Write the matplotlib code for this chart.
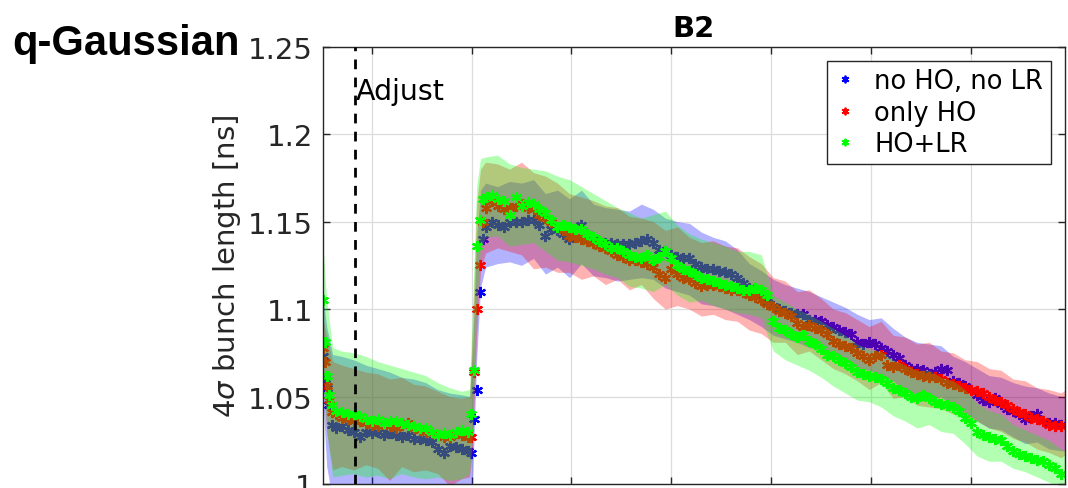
import numpy as np
import matplotlib
matplotlib.use("Agg")
import matplotlib.pyplot as plt
from matplotlib.lines import Line2D

# ---------------------------------------------------------------- data
# sample times (grid units), finer at the start of the fill and at the ramp
t_start = [-0.49, -0.47, -0.45, -0.43, -0.40, -0.36, -0.30, -0.24, -0.18, -0.12, -0.06,
           0.00, 0.06, 0.12, 0.18, 0.24, 0.30, 0.36, 0.42, 0.48, 0.54, 0.60, 0.66,
           0.72, 0.78, 0.84, 0.90, 0.96, 0.99, 1.02, 1.05, 1.08, 1.11]
t_rest = np.round(1.14 + 0.06 * np.arange(97), 2)
t = np.concatenate([t_start, t_rest])

# mean 4-sigma bunch length [ns]
no_ho_no_lr = [
    1.073, 1.060, 1.055, 1.045, 1.034, 1.032, 1.033, 1.031, 1.030, 1.027, 1.030,
    1.029, 1.030, 1.028, 1.029, 1.028, 1.027, 1.028, 1.026, 1.026, 1.025, 1.024,
    1.020, 1.018, 1.022, 1.021, 1.020, 1.019, 1.018, 1.037, 1.054, 1.110, 1.140,
    1.147, 1.150, 1.148, 1.147, 1.150, 1.150, 1.150, 1.151, 1.151, 1.148, 1.142, 1.146,
    1.145, 1.143, 1.140, 1.146, 1.148, 1.143, 1.140, 1.139, 1.138, 1.138, 1.137, 1.137,
    1.137, 1.138, 1.139, 1.140, 1.138, 1.134, 1.133, 1.131, 1.130, 1.129, 1.129, 1.126,
    1.124, 1.123, 1.123, 1.122, 1.121, 1.120, 1.118, 1.115, 1.112, 1.110, 1.108, 1.104,
    1.102, 1.100, 1.099, 1.098, 1.097, 1.097, 1.094, 1.094, 1.093, 1.091, 1.090, 1.088,
    1.087, 1.086, 1.081, 1.080, 1.081, 1.080, 1.078, 1.076, 1.074, 1.072, 1.068, 1.066,
    1.066, 1.065, 1.063, 1.064, 1.066, 1.065, 1.059, 1.058, 1.056, 1.054, 1.051, 1.048,
    1.047, 1.049, 1.046, 1.043, 1.042, 1.040, 1.037, 1.039, 1.040, 1.036, 1.035, 1.035,
    1.034]
only_ho = [
    1.078, 1.070, 1.056, 1.048, 1.041, 1.040, 1.038, 1.037, 1.036, 1.036, 1.035,
    1.034, 1.033, 1.035, 1.033, 1.032, 1.034, 1.035, 1.032, 1.031, 1.030, 1.029,
    1.028, 1.027, 1.027, 1.029, 1.028, 1.027, 1.027, 1.064, 1.100, 1.125, 1.150,
    1.158, 1.162, 1.159, 1.157, 1.158, 1.159, 1.160, 1.158, 1.157, 1.154, 1.152, 1.150,
    1.147, 1.145, 1.142, 1.141, 1.140, 1.139, 1.138, 1.136, 1.135, 1.133, 1.131, 1.130,
    1.128, 1.128, 1.127, 1.126, 1.124, 1.120, 1.118, 1.123, 1.120, 1.118, 1.117, 1.115,
    1.113, 1.114, 1.114, 1.113, 1.112, 1.111, 1.111, 1.110, 1.108, 1.107, 1.105, 1.103,
    1.101, 1.099, 1.098, 1.096, 1.092, 1.090, 1.091, 1.089, 1.088, 1.086, 1.082, 1.080,
    1.079, 1.078, 1.075, 1.073, 1.071, 1.073, 1.074, 1.068, 1.067, 1.068, 1.066, 1.064,
    1.063, 1.062, 1.061, 1.061, 1.060, 1.058, 1.057, 1.056, 1.055, 1.054, 1.053, 1.052,
    1.050, 1.048, 1.047, 1.045, 1.043, 1.041, 1.040, 1.038, 1.037, 1.036, 1.034, 1.033,
    1.033]
ho_lr = [
    1.105, 1.081, 1.062, 1.051, 1.045, 1.042, 1.041, 1.040, 1.040, 1.039, 1.037,
    1.036, 1.037, 1.035, 1.036, 1.036, 1.035, 1.034, 1.033, 1.032, 1.032, 1.030,
    1.028, 1.029, 1.028, 1.030, 1.031, 1.030, 1.040, 1.065, 1.136, 1.151, 1.163,
    1.164, 1.165, 1.163, 1.162, 1.154, 1.164, 1.159, 1.161, 1.160, 1.157, 1.155, 1.151,
    1.147, 1.148, 1.147, 1.146, 1.146, 1.143, 1.141, 1.139, 1.137, 1.135, 1.135, 1.133,
    1.131, 1.130, 1.129, 1.131, 1.128, 1.130, 1.133, 1.129, 1.125, 1.123, 1.122, 1.120,
    1.118, 1.117, 1.116, 1.115, 1.114, 1.113, 1.112, 1.111, 1.111, 1.112, 1.111, 1.108,
    1.093, 1.089, 1.088, 1.086, 1.084, 1.085, 1.082, 1.080, 1.077, 1.074, 1.073, 1.071,
    1.069, 1.067, 1.064, 1.063, 1.062, 1.061, 1.060, 1.058, 1.055, 1.054, 1.052, 1.050,
    1.049, 1.051, 1.049, 1.047, 1.046, 1.045, 1.044, 1.042, 1.038, 1.035, 1.030, 1.028,
    1.027, 1.026, 1.025, 1.022, 1.019, 1.017, 1.016, 1.015, 1.014, 1.013, 1.011, 1.009,
    1.006]

# spread band (lower / upper envelope) sampled on a coarser time grid
tb_start = [-0.49, -0.45, -0.39, -0.30, -0.18, -0.06, 0.06, 0.18, 0.30, 0.42, 0.54,
            0.66, 0.78, 0.90, 0.98, 1.01, 1.05, 1.09]
tb = np.concatenate([tb_start, np.round(1.14 + 0.12 * np.arange(49), 2), [6.95]])

no_ho_no_lr_hi = [
    1.108, 1.090, 1.074, 1.073, 1.071, 1.068, 1.066, 1.064, 1.061, 1.060, 1.058, 1.054,
    1.052, 1.051, 1.050, 1.075, 1.140, 1.168,
    1.172, 1.170, 1.173, 1.172, 1.174, 1.166, 1.168, 1.163, 1.168, 1.160, 1.158, 1.157,
    1.156, 1.160, 1.157, 1.152, 1.150, 1.149, 1.144, 1.141, 1.139, 1.134, 1.126, 1.122,
    1.117, 1.114, 1.112, 1.110, 1.107, 1.104, 1.101, 1.097, 1.094, 1.095, 1.089, 1.084,
    1.081, 1.080, 1.079, 1.073, 1.070, 1.066, 1.062, 1.061, 1.058, 1.056, 1.055, 1.052,
    1.050, 1.050]
no_ho_no_lr_lo = [
    1.050, 1.010, 0.990, 0.992, 0.990, 0.992, 0.991, 0.990, 0.992, 0.990, 0.991, 0.989,
    0.990, 0.990, 0.989, 1.000, 1.070, 1.112,
    1.124, 1.126, 1.127, 1.125, 1.129, 1.120, 1.124, 1.118, 1.126, 1.119, 1.118, 1.116,
    1.117, 1.118, 1.117, 1.112, 1.110, 1.108, 1.103, 1.102, 1.100, 1.097, 1.094, 1.090,
    1.085, 1.083, 1.081, 1.078, 1.077, 1.074, 1.071, 1.066, 1.065, 1.062, 1.059, 1.053,
    1.051, 1.048, 1.050, 1.044, 1.041, 1.036, 1.032, 1.031, 1.027, 1.023, 1.024, 1.020,
    1.019, 1.019]
only_ho_hi = [
    1.095, 1.085, 1.070, 1.068, 1.066, 1.064, 1.063, 1.060, 1.061, 1.057, 1.056, 1.053,
    1.050, 1.049, 1.050, 1.090, 1.160, 1.180,
    1.184, 1.183, 1.180, 1.184, 1.178, 1.176, 1.172, 1.166, 1.164, 1.162, 1.159, 1.158,
    1.153, 1.152, 1.150, 1.145, 1.147, 1.141, 1.138, 1.139, 1.136, 1.135, 1.130, 1.126,
    1.118, 1.116, 1.110, 1.111, 1.106, 1.100, 1.098, 1.094, 1.090, 1.093, 1.085, 1.084,
    1.080, 1.081, 1.076, 1.075, 1.071, 1.070, 1.066, 1.065, 1.060, 1.059, 1.055, 1.054,
    1.052, 1.054]
only_ho_lo = [
    1.065, 1.030, 1.008, 1.010, 1.008, 1.011, 1.009, 1.002, 1.010, 1.007, 1.008, 1.006,
    0.999, 1.003, 1.004, 1.020, 1.085, 1.122,
    1.132, 1.135, 1.133, 1.131, 1.123, 1.124, 1.121, 1.121, 1.117, 1.119, 1.114, 1.117,
    1.111, 1.114, 1.106, 1.100, 1.102, 1.100, 1.096, 1.097, 1.094, 1.093, 1.088, 1.086,
    1.081, 1.081, 1.074, 1.076, 1.071, 1.066, 1.063, 1.059, 1.054, 1.058, 1.049, 1.050,
    1.045, 1.044, 1.043, 1.040, 1.038, 1.036, 1.032, 1.030, 1.026, 1.024, 1.020, 1.018,
    1.015, 1.017]
ho_lr_hi = [
    1.140, 1.105, 1.078, 1.076, 1.075, 1.073, 1.070, 1.068, 1.066, 1.064, 1.062, 1.058,
    1.055, 1.053, 1.054, 1.100, 1.170, 1.186,
    1.187, 1.188, 1.183, 1.181, 1.180, 1.179, 1.176, 1.174, 1.170, 1.166, 1.162, 1.158,
    1.155, 1.152, 1.154, 1.156, 1.148, 1.143, 1.140, 1.138, 1.136, 1.133, 1.133, 1.131,
    1.108, 1.104, 1.100, 1.097, 1.093, 1.089, 1.085, 1.080, 1.077, 1.076, 1.071, 1.068,
    1.065, 1.065, 1.061, 1.059, 1.054, 1.046, 1.042, 1.040, 1.034, 1.031, 1.028, 1.025,
    1.020, 1.019]
ho_lr_lo = [
    1.075, 1.030, 1.004, 1.005, 1.006, 1.004, 1.005, 1.003, 1.006, 1.004, 1.003, 1.004,
    1.002, 1.003, 1.006, 1.030, 1.100, 1.135,
    1.141, 1.142, 1.136, 1.137, 1.138, 1.133, 1.128, 1.127, 1.125, 1.123, 1.120, 1.118,
    1.113, 1.112, 1.110, 1.114, 1.108, 1.104, 1.105, 1.102, 1.100, 1.098, 1.097, 1.095,
    1.076, 1.071, 1.068, 1.065, 1.061, 1.056, 1.052, 1.048, 1.047, 1.044, 1.039, 1.036,
    1.032, 1.034, 1.030, 1.029, 1.023, 1.016, 1.013, 1.013, 1.009, 1.007, 1.004, 1.001,
    0.996, 0.995]

labels = ["no HO, no LR", "only HO", "HO+LR"]
colors = ["#0000ff", "#ff0000", "#00ff00"]
y_ticks = [1.0, 1.05, 1.1, 1.15, 1.2, 1.25]
y_ticklabels = ["1", "1.05", "1.1", "1.15", "1.2", "1.25"]
adjust_time = -0.17

# ---------------------------------------------------------------- figure
W, H = 1068, 489
fig = plt.figure(figsize=(W / 100, H / 100), dpi=100)
ax = fig.add_axes([322.7 / W, 1 - 485 / H, (1065 - 322.7) / W, (485 - 47.7) / H])

ink = "#262626"
asterisk = (6, 2, 0)

series = [
    (no_ho_no_lr, no_ho_no_lr_lo, no_ho_no_lr_hi),
    (only_ho, only_ho_lo, only_ho_hi),
    (ho_lr, ho_lr_lo, ho_lr_hi),
]
handles = []
for (mean, lo, hi), col, lab in zip(series, colors, labels):
    ax.fill_between(tb, lo, hi, color=col, alpha=0.3, lw=0, zorder=2)
    ax.plot(t, mean, ls="none", marker=asterisk, ms=8, mew=1.6,
            color=col, zorder=2)
    handles.append(Line2D([], [], ls="none", marker=asterisk, ms=5.5, mew=1.3,
                          color=col, label=lab))

ax.axvline(adjust_time, color="black", ls=(0, (3.5, 3)), lw=2, zorder=5)
ax.text(adjust_time + 0.015, 1.2247, "Adjust", fontsize=20.5, va="center",
        ha="left", color="black", zorder=6)

ax.set_xlim(-0.49, 6.94)
ax.set_ylim(1.0, 1.25)
ax.set_xticks(range(7))
ax.set_yticks(y_ticks)
ax.set_yticklabels(y_ticklabels)
ax.tick_params(direction="in", top=True, right=True, length=5, width=1,
               labelbottom=False, labelsize=21, colors=ink, pad=7)
ax.grid(True, color="#dcdcdc", lw=0.9)
ax.set_axisbelow(True)
for s in ax.spines.values():
    s.set_color(ink)
    s.set_linewidth(1)

ax.set_ylabel(r"4$\sigma$ bunch length [ns]", fontsize=21, color=ink)
ax.yaxis.set_label_coords(-0.108, 0.5)
ax.set_title("B2", fontsize=21, fontweight="bold", color="black", pad=8)

leg = ax.legend(handles=handles, loc="upper right", fontsize=18.5,
                bbox_to_anchor=(1 - 14 / 742.3, 1 - 14 / 437.3),
                borderaxespad=0, frameon=True, fancybox=False,
                handlelength=0.8, handletextpad=0.75, borderpad=0.3,
                labelspacing=0.2, framealpha=1)
leg.get_frame().set_edgecolor(ink)
leg.get_frame().set_linewidth(1)

fig.text(12 / W, 1 - 55 / H, "q-Gaussian", fontsize=30, fontweight="bold",
         family="Liberation Sans", va="baseline", ha="left", color="black")

fig.savefig("out.png", dpi=100)
